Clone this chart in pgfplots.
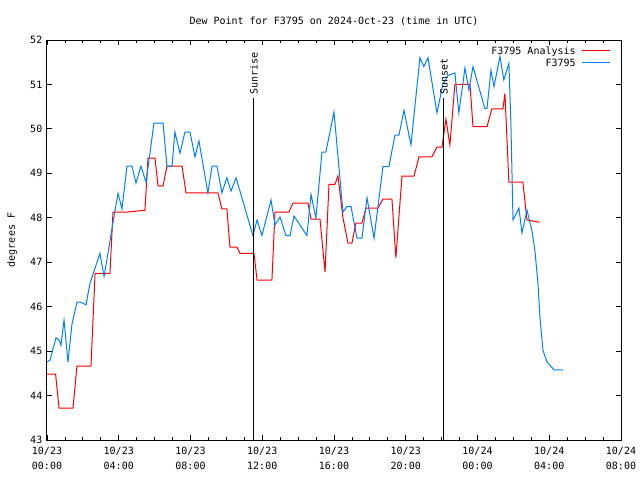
\documentclass[border=0pt]{standalone}
\usepackage{fontspec}
\setmainfont{DejaVu Sans Mono}
\usepackage{pgfplots}
\pgfplotsset{compat=1.18}
\definecolor{obsblue}{RGB}{0,128,255}
\newcommand{\tl}[2]{#1\\\rule{0pt}{9.5pt}#2}
\newcommand{\legline}[1]{\hspace{5pt}\textcolor{#1}{\rule[2.4pt]{21pt}{0.75pt}}}
\begin{document}
\begin{tikzpicture}[x=1pt,y=1pt]
\begin{axis}[
  scale only axis, width=430.5pt, height=300pt,
  at={(0,0)}, anchor=south west,
  xmin=0, xmax=32, ymin=43, ymax=52,
  font=\fontsize{7.5pt}{9pt}\selectfont,
  /pgf/number format/assume math mode=true,
  axis line style={line width=0.75pt},
  xtick={0,4,...,32},
  xticklabels={{\tl{10/23}{00:00}},{\tl{10/23}{04:00}},{\tl{10/23}{08:00}},{\tl{10/23}{12:00}},{\tl{10/23}{16:00}},{\tl{10/23}{20:00}},{\tl{10/24}{00:00}},{\tl{10/24}{04:00}},{\tl{10/24}{08:00}}},
  xticklabel style={align=center, yshift=-2pt, font=\fontsize{7.5pt}{9pt}\selectfont},
  minor x tick num=3,
  ytick={43,44,...,52},
  major tick length=4pt, minor tick length=2.2pt,
  tick style={line width=0.6pt, black},
  title={Dew Point for F3795 on 2024-Oct-23 (time in UTC)},
  title style={yshift=1pt},
  ylabel={degrees F},
  ylabel style={yshift=3pt},
  legend style={at={(0.99,0.99)}, anchor=north east, xshift=1.5pt, yshift=2pt, draw=none, fill=none, row sep=-2pt, font=\fontsize{7.5pt}{9pt}\selectfont},
  legend cell align=right,
  legend plot pos=none,
]
\addplot[red, line width=0.75pt] coordinates {
(0,44.48) (0.48,44.48) (0.67,43.72) (1.45,43.72) (1.67,44.66) (2.45,44.66)
(2.68,46.75) (3.51,46.75) (3.68,48.13) (4.52,48.13) (5.46,48.17) (5.63,49.34)
(6.02,49.34) (6.19,48.72) (6.47,48.72) (6.69,49.16) (7.53,49.16) (7.75,48.56)
(9.53,48.56) (9.75,48.2) (10.03,48.2) (10.2,47.34) (10.59,47.34) (10.76,47.2)
(11.54,47.2) (11.71,46.6) (12.54,46.6) (12.71,48.13) (13.49,48.13) (13.71,48.33)
(14.55,48.33) (14.72,47.97) (15.22,47.97) (15.5,46.78) (15.72,48.75) (16.05,48.75)
(16.22,48.94) (16.5,48.0) (16.78,47.43) (17.0,47.43) (17.22,47.88) (17.56,47.88)
(17.78,48.22) (18.45,48.22) (18.73,48.42) (19.23,48.42) (19.45,47.1) (19.79,48.94)
(20.46,48.94) (20.74,49.37) (21.46,49.37) (21.74,49.59) (22.02,49.59) (22.24,50.22)
(22.46,49.64) (22.74,51.0) (23.58,51.0) (23.75,50.05) (24.53,50.05) (24.8,50.45)
(25.42,50.45) (25.53,50.8) (25.75,48.8) (26.53,48.8) (26.76,47.95) (27.48,47.9)
};
\addlegendentry{F3795 Analysis\legline{red}}
\addplot[obsblue, line width=0.75pt] coordinates {
(0,44.75) (0.17,44.8) (0.5,45.3) (0.67,45.25) (0.78,45.13) (0.95,45.7) (1.17,44.75)
(1.39,45.6) (1.67,46.1) (1.9,46.1) (2.17,46.04) (2.4,46.53) (2.95,47.2) (3.18,46.68)
(3.4,47.2) (3.68,47.9) (3.96,48.55) (4.18,48.2) (4.46,49.16) (4.74,49.16) (4.96,48.78)
(5.24,49.16) (5.52,48.8) (5.74,49.45) (5.96,50.13) (6.47,50.13) (6.69,49.16) (6.97,49.16)
(7.13,49.93) (7.41,49.45) (7.69,49.93) (7.97,49.93) (8.25,49.37) (8.47,49.73) (8.97,48.56)
(9.2,49.16) (9.48,49.16) (9.75,48.56) (10.03,48.9) (10.26,48.6) (10.54,48.9) (11.48,47.6)
(11.71,47.95) (11.98,47.6) (12.49,48.4) (12.71,47.84) (12.99,48.02) (13.32,47.6) (13.55,47.6)
(13.77,48.04) (14.49,47.6) (14.72,48.53) (14.99,47.99) (15.33,49.48) (15.55,49.48) (16.0,50.38)
(16.5,48.13) (16.72,48.25) (16.95,48.25) (17.28,47.54) (17.56,47.54) (17.84,48.45) (18.23,47.54)
(18.73,49.15) (19.06,49.15) (19.4,49.86) (19.62,49.86) (19.9,50.42) (20.29,49.64) (20.79,51.6)
(21.01,51.4) (21.24,51.6) (21.74,50.36) (22.07,51.0) (22.35,51.2) (22.74,51.26) (22.96,50.36)
(23.3,51.37) (23.52,50.88) (23.75,51.4) (24.41,50.46) (24.53,50.46) (24.75,51.32) (24.92,50.95)
(25.25,51.63) (25.47,51.1) (25.75,51.47) (25.86,50.15) (25.98,47.95) (26.31,48.22) (26.48,47.66)
(26.76,48.17) (27.03,47.72) (27.2,47.27) (27.37,46.53) (27.48,45.77) (27.65,45.02) (27.87,44.76)
(28.26,44.58) (28.76,44.58)
};
\addlegendentry{F3795\legline{obsblue}}
\addplot[black, line width=0.75pt, forget plot] coordinates {(11.54,43) (11.54,50.69)};
\addplot[black, line width=0.75pt, forget plot] coordinates {(22.13,43) (22.13,50.69)};
\node[rotate=90, anchor=west, inner sep=1pt, xshift=0.5pt] at (axis cs:11.54,50.72) {Sunrise};
\node[rotate=90, anchor=west, inner sep=1pt, xshift=0.5pt] at (axis cs:22.13,50.72) {Sunset};
\end{axis}
\pgfresetboundingbox
\path (-35.25pt,-30pt) rectangle (444.75pt,330pt);
\end{tikzpicture}
\end{document}
